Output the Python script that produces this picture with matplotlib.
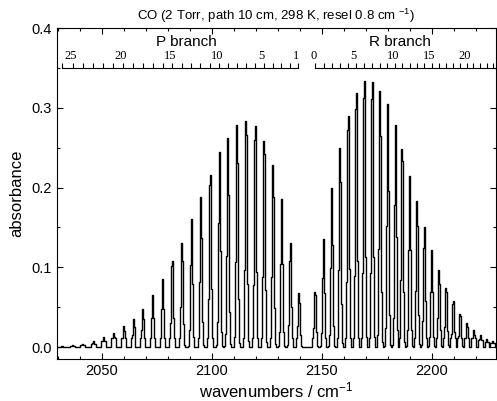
import numpy as np
import matplotlib
matplotlib.use("Agg")
import matplotlib.pyplot as plt
from matplotlib.ticker import MultipleLocator, FormatStrFormatter

plt.rcParams['font.family'] = ['Liberation Sans', 'DejaVu Sans']
plt.rcParams['mathtext.fontset'] = 'custom'
plt.rcParams['mathtext.rm'] = 'Liberation Sans'
plt.rcParams['mathtext.it'] = 'Liberation Sans:italic'
plt.rcParams['mathtext.bf'] = 'Liberation Sans:bold'

# ---- data ----
p_J = list(range(1, 27))
p_pos = [2139.4, 2135.5, 2131.6, 2127.7, 2123.7, 2119.7, 2115.6, 2111.5, 2107.4,
         2103.2, 2099.0, 2094.8, 2090.6, 2086.3, 2081.9, 2077.6, 2073.1, 2068.7,
         2064.2, 2059.7, 2055.2, 2050.6, 2046.0, 2041.3, 2036.6, 2031.9]
p_abs = [0.0675, 0.130, 0.185, 0.228, 0.258, 0.277, 0.284, 0.279, 0.2625,
         0.244, 0.216, 0.1875, 0.160, 0.131, 0.108, 0.085, 0.065, 0.048,
         0.035, 0.027, 0.018, 0.0125, 0.007, 0.0035, 0.002, 0.001]

r_J = list(range(0, 25))
r_pos = [2147.1, 2150.9, 2154.6, 2158.3, 2162.0, 2165.6, 2169.2, 2172.8, 2176.3,
         2179.8, 2183.3, 2186.7, 2190.1, 2193.4, 2196.7, 2200.0, 2203.3, 2206.5,
         2209.7, 2212.8, 2215.9, 2219.0, 2222.0, 2225.1, 2228.0]
r_abs = [0.069, 0.136, 0.199, 0.250, 0.290, 0.318, 0.333, 0.332, 0.321,
         0.305, 0.279, 0.248, 0.215, 0.183, 0.150, 0.122, 0.096, 0.074,
         0.0575, 0.041, 0.030, 0.021, 0.015, 0.010, 0.0075]

p_labels = [25, 20, 15, 10, 5, 1]
r_labels = [0, 5, 10, 15, 20]

# ---- build sampled spectrum from the line list ----
grid = np.arange(2029.0, 2231.0, 0.45)
spec = np.zeros_like(grid)
for pos, h in zip(p_pos + r_pos, p_abs + r_abs):
    d = grid - pos
    g = np.exp(-0.5 * (d / 0.42) ** 2)
    g /= g.max()
    ped = np.where(np.abs(d) < 1.15, min(0.011, 0.6 * h), 0.0)
    spec += np.maximum(h * g, ped)

W, H = 497, 401
fig = plt.figure(figsize=(W / 100, H / 100), dpi=100)
ax = fig.add_axes([57 / W, 1 - 359 / H, (496 - 57) / W, (359 - 28) / H])

ax.plot(grid, spec, drawstyle='steps-mid', color='black', lw=1.0)

ax.set_xlim(2029.5, 2229.3)
ax.set_ylim(-0.015, 0.4)
ax.xaxis.set_major_locator(MultipleLocator(50))
ax.xaxis.set_minor_locator(MultipleLocator(10))
ax.yaxis.set_major_locator(MultipleLocator(0.1))
ax.yaxis.set_minor_locator(MultipleLocator(0.05))
ax.yaxis.set_major_formatter(FormatStrFormatter('%.1f'))
ax.tick_params(which='both', direction='in', top=True, right=True, labelsize=10.5, width=0.8)
ax.tick_params(which='major', length=4)
ax.tick_params(which='minor', length=2.5)
for s in ax.spines.values():
    s.set_linewidth(0.8)

ax.set_xlabel('wavenumbers / cm$^{-1}$', fontsize=12, labelpad=2)
ax.set_ylabel('absorbance', fontsize=12, labelpad=5)
ax.set_title('CO (2 Torr, path 10 cm, 298 K, resel 0.8 cm $^{-1}$)', fontsize=9.5, pad=6)

# ---- J rulers ----
y0, yt = 0.350, 0.356
ax.plot([min(p_pos), max(p_pos)], [y0, y0], color='black', lw=0.8)
ax.vlines(p_pos, y0, yt, color='black', lw=0.8)
ax.plot([min(r_pos), 2229.3], [y0, y0], color='black', lw=0.8)
ax.vlines(r_pos, y0, yt, color='black', lw=0.8)
for j in p_labels:
    ax.text(p_pos[p_J.index(j)] - 1.0, yt + 0.001, str(j), ha='center', va='bottom',
            fontsize=9, family='Liberation Serif')
for j in r_labels:
    ax.text(r_pos[r_J.index(j)] - 1.0, yt + 0.001, str(j), ha='center', va='bottom',
            fontsize=9, family='Liberation Serif')
ax.text(2088.6, 0.382, 'P branch', ha='center', va='center', fontsize=11)
ax.text(2185.4, 0.382, 'R branch', ha='center', va='center', fontsize=11)

fig.savefig('out.png', dpi=100)
